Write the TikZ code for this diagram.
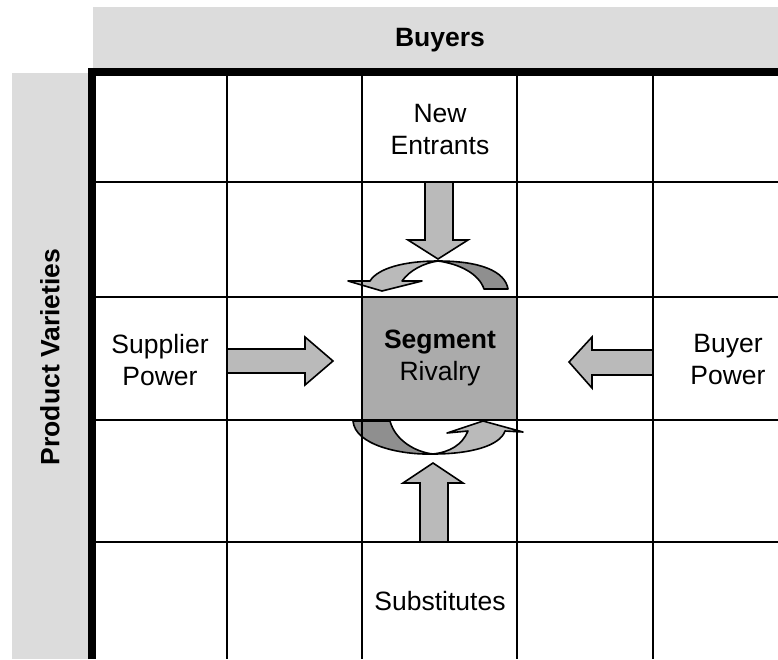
\documentclass[tikz,border=0pt]{standalone}
\usepackage{fontspec}
\setmainfont{Liberation Sans}
\definecolor{bandgray}{HTML}{DCDCDC}
\definecolor{boxgray}{HTML}{ABABAB}
\definecolor{arrowgray}{HTML}{BABABA}
\definecolor{ribbongray}{HTML}{8F8F8F}

\begin{document}
\begin{tikzpicture}[x=1pt, y=-1pt,
		gridline/.style={line width=2pt},
		frameline/.style={line width=8pt},
		blockarrow/.style={draw, line width=1.6pt, fill=arrowgray, line join=miter},
		ribbonlight/.style={draw, line width=1.6pt, fill=arrowgray, line join=round},
		ribbondark/.style={draw, line width=1.6pt, fill=ribbongray, line join=round},
		lbl/.style={font=\fontsize{26.5}{32}\selectfont, align=center}]
		\useasboundingbox (0,0) rectangle (778,659);
		% Gray bands for the two axes
		\fill[bandgray] (93,7) rectangle (778,68);
		\fill[bandgray] (12,73) rectangle (88,659);
		% Segment cell
		\fill[boxgray] (362,297) rectangle (517,420);
		
		% Rivalry ribbon above the segment
		\draw[ribbonlight] (438,261) .. controls (405,261) and (378,268) .. (370,281)
			-- (348,281) -- (382,291) -- (422,281) -- (402,281)
			.. controls (410,270) and (424,263) .. cycle;
		\draw[ribbondark] (438,261) .. controls (480,261) and (505,271) .. (508,289)
			-- (484,289) .. controls (479,274) and (460,264) .. cycle;
		% Rivalry ribbon below the segment
		\draw[ribbondark] (353,421) -- (390,421) .. controls (395,440) and (415,452) .. (433,454)
			.. controls (400,455) and (355,445) .. cycle;
		\draw[ribbonlight] (433,454) .. controls (470,454) and (500,446) .. (505,431)
			-- (523,432) -- (483,421) -- (447,433) -- (468,431)
			.. controls (462,445) and (450,452) .. cycle;
		
		% Grid lines
		\foreach \x in {227, 362, 517, 653}
			\draw[gridline] (\x,72) -- (\x,659);
		\foreach \y in {182, 297, 420, 542}
			\draw[gridline] (92,\y) -- (778,\y);
		
		% Block arrows towards the segment
		\draw[blockarrow] (227,349) -- (305,349) -- (305,337) -- (333,361) -- (305,385) -- (305,373) -- (227,373) -- cycle;
		\draw[blockarrow] (653,350) -- (592,350) -- (592,337) -- (569,362) -- (592,388) -- (592,375) -- (653,375) -- cycle;
		\draw[blockarrow] (425,182) -- (453,182) -- (453,240) -- (468,240) -- (438,259) -- (408,240) -- (425,240) -- cycle;
		\draw[blockarrow] (420,542) -- (448,542) -- (448,483) -- (463,483) -- (433,463) -- (403,483) -- (420,483) -- cycle;
		
		% Thick frame
		\draw[frameline] (92,659) -- (92,72) -- (778,72);
		
		% Labels
		\node[lbl] (buyers) at (440,40) {\bfseries Buyers};
		\node[lbl, rotate=90] (varieties) at (50,357) {\bfseries Product Varieties};
		\node[lbl] (entrants) at (440,130) {New\\Entrants};
		\node[lbl] (supplier) at (160,360) {Supplier\\Power};
		\node[lbl] (segment) at (440,358) {{\bfseries Segment}\\Rivalry};
		\node[lbl] (buyerpow) at (728,360) {Buyer\\Power};
		\node[lbl] (substitutes) at (440,601) {Substitutes};
\end{tikzpicture}
\end{document}
